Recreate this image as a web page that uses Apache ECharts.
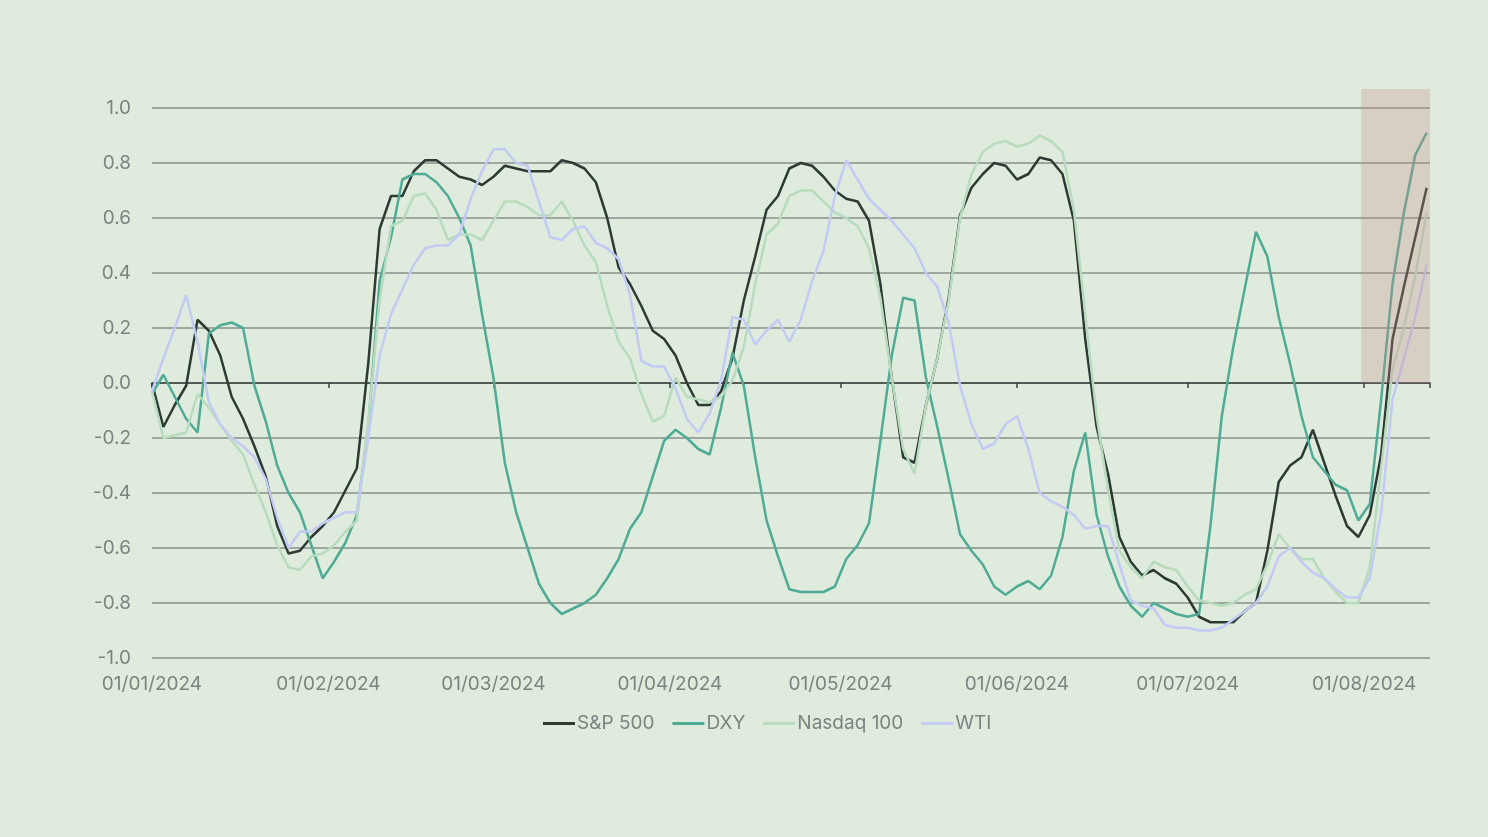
<!DOCTYPE html>
<html>
<head>
<meta charset="utf-8">
<title>Correlations 2024</title>
<script src="https://cdn.jsdelivr.net/npm/echarts@6/dist/echarts.min.js"></script>
<style>
  html, body { margin: 0; padding: 0; background: #dfecdd; }
  #main { width: 1488px; height: 837px; }
</style>
</head>
<body>
<div id="main"></div>
<script>
// every second day, 1 Jan to 12 Aug 2024
const dates = [
  '2024-01-01', '2024-01-03', '2024-01-05', '2024-01-07', '2024-01-09', '2024-01-11', '2024-01-13', '2024-01-15',
  '2024-01-17', '2024-01-19', '2024-01-21', '2024-01-23', '2024-01-25', '2024-01-27', '2024-01-29', '2024-01-31',
  '2024-02-02', '2024-02-04', '2024-02-06', '2024-02-08', '2024-02-10', '2024-02-12', '2024-02-14',
  '2024-02-16', '2024-02-18', '2024-02-20', '2024-02-22', '2024-02-24', '2024-02-26', '2024-02-28',
  '2024-03-01', '2024-03-03', '2024-03-05', '2024-03-07', '2024-03-09', '2024-03-11', '2024-03-13', '2024-03-15',
  '2024-03-17', '2024-03-19', '2024-03-21', '2024-03-23', '2024-03-25', '2024-03-27', '2024-03-29', '2024-03-31',
  '2024-04-02', '2024-04-04', '2024-04-06', '2024-04-08', '2024-04-10', '2024-04-12', '2024-04-14', '2024-04-16',
  '2024-04-18', '2024-04-20', '2024-04-22', '2024-04-24', '2024-04-26', '2024-04-28', '2024-04-30',
  '2024-05-02', '2024-05-04', '2024-05-06', '2024-05-08', '2024-05-10', '2024-05-12', '2024-05-14', '2024-05-16',
  '2024-05-18', '2024-05-20', '2024-05-22', '2024-05-24', '2024-05-26', '2024-05-28', '2024-05-30',
  '2024-06-01', '2024-06-03', '2024-06-05', '2024-06-07', '2024-06-09', '2024-06-11', '2024-06-13', '2024-06-15',
  '2024-06-17', '2024-06-19', '2024-06-21', '2024-06-23', '2024-06-25', '2024-06-27', '2024-06-29',
  '2024-07-01', '2024-07-03', '2024-07-05', '2024-07-07', '2024-07-09', '2024-07-11', '2024-07-13', '2024-07-15',
  '2024-07-17', '2024-07-19', '2024-07-21', '2024-07-23', '2024-07-25', '2024-07-27', '2024-07-29', '2024-07-31',
  '2024-08-02', '2024-08-04', '2024-08-06', '2024-08-08', '2024-08-10', '2024-08-12'
];

const spx = [
  0.00, -0.16, -0.08, -0.01, 0.23, 0.19, 0.10, -0.05, -0.13, -0.23, -0.34, -0.52, -0.62, -0.61, -0.56, -0.52,
  -0.47, -0.39, -0.31, 0.07, 0.56, 0.68, 0.68, 0.77, 0.81, 0.81, 0.78, 0.75, 0.74, 0.72,
  0.75, 0.79, 0.78, 0.77, 0.77, 0.77, 0.81, 0.80, 0.78, 0.73, 0.60, 0.42, 0.36, 0.28, 0.19, 0.16,
  0.10, 0.00, -0.08, -0.08, -0.03, 0.09, 0.30, 0.46, 0.63, 0.68, 0.78, 0.80, 0.79, 0.75, 0.70,
  0.67, 0.66, 0.59, 0.36, 0.02, -0.27, -0.29, -0.08, 0.09, 0.31, 0.61, 0.71, 0.76, 0.80, 0.79,
  0.74, 0.76, 0.82, 0.81, 0.76, 0.59, 0.16, -0.16, -0.33, -0.56, -0.65, -0.70, -0.68, -0.71, -0.73,
  -0.78, -0.85, -0.87, -0.87, -0.87, -0.83, -0.80, -0.61, -0.36, -0.30, -0.27, -0.17, -0.29, -0.41, -0.52, -0.56,
  -0.48, -0.26, 0.16, 0.35, 0.53, 0.71
];

const dxy = [
  -0.04, 0.03, -0.05, -0.13, -0.18, 0.18, 0.21, 0.22, 0.20, -0.01, -0.14, -0.30, -0.40, -0.47, -0.59, -0.71,
  -0.65, -0.58, -0.48, -0.16, 0.37, 0.53, 0.74, 0.76, 0.76, 0.73, 0.68, 0.60, 0.50, 0.25,
  0.02, -0.29, -0.47, -0.60, -0.73, -0.80, -0.84, -0.82, -0.80, -0.77, -0.71, -0.64, -0.53, -0.47, -0.34, -0.21,
  -0.17, -0.20, -0.24, -0.26, -0.09, 0.11, -0.01, -0.27, -0.50, -0.63, -0.75, -0.76, -0.76, -0.76, -0.74,
  -0.64, -0.59, -0.51, -0.21, 0.10, 0.31, 0.30, 0.02, -0.16, -0.35, -0.55, -0.61, -0.66, -0.74, -0.77,
  -0.74, -0.72, -0.75, -0.70, -0.56, -0.32, -0.18, -0.48, -0.63, -0.74, -0.81, -0.85, -0.80, -0.82, -0.84,
  -0.85, -0.84, -0.52, -0.12, 0.13, 0.34, 0.55, 0.46, 0.24, 0.07, -0.12, -0.27, -0.32, -0.37, -0.39, -0.50,
  -0.44, -0.06, 0.36, 0.62, 0.83, 0.91
];

const ndx = [
  -0.03, -0.20, -0.19, -0.18, -0.04, -0.09, -0.15, -0.21, -0.26, -0.37, -0.47, -0.59, -0.67, -0.68, -0.63, -0.62,
  -0.59, -0.54, -0.50, -0.14, 0.30, 0.57, 0.59, 0.68, 0.69, 0.63, 0.52, 0.54, 0.54, 0.52,
  0.59, 0.66, 0.66, 0.64, 0.61, 0.61, 0.66, 0.59, 0.50, 0.44, 0.28, 0.15, 0.09, -0.04, -0.14, -0.12,
  0.02, -0.05, -0.06, -0.07, -0.05, 0.01, 0.13, 0.36, 0.54, 0.58, 0.68, 0.70, 0.70, 0.66, 0.62,
  0.60, 0.57, 0.49, 0.31, 0.02, -0.24, -0.33, -0.08, 0.09, 0.30, 0.60, 0.76, 0.84, 0.87, 0.88,
  0.86, 0.87, 0.90, 0.88, 0.84, 0.63, 0.25, -0.12, -0.39, -0.61, -0.67, -0.71, -0.65, -0.67, -0.68,
  -0.74, -0.79, -0.80, -0.81, -0.80, -0.77, -0.75, -0.66, -0.55, -0.60, -0.64, -0.64, -0.71, -0.76, -0.80, -0.80,
  -0.67, -0.31, 0.05, 0.20, 0.39, 0.62
];

const wti = [
  -0.03, 0.09, 0.20, 0.32, 0.15, -0.07, -0.15, -0.20, -0.23, -0.27, -0.35, -0.49, -0.60, -0.54, -0.54, -0.51,
  -0.49, -0.47, -0.47, -0.20, 0.10, 0.25, 0.34, 0.43, 0.49, 0.50, 0.50, 0.54, 0.67, 0.77,
  0.85, 0.85, 0.80, 0.79, 0.66, 0.53, 0.52, 0.56, 0.57, 0.51, 0.49, 0.45, 0.32, 0.08, 0.06, 0.06,
  -0.02, -0.13, -0.18, -0.11, 0.01, 0.24, 0.23, 0.14, 0.19, 0.23, 0.15, 0.23, 0.37, 0.48, 0.68,
  0.81, 0.74, 0.67, 0.63, 0.59, 0.54, 0.49, 0.40, 0.35, 0.22, -0.01, -0.15, -0.24, -0.22, -0.15,
  -0.12, -0.24, -0.40, -0.43, -0.45, -0.48, -0.53, -0.52, -0.52, -0.66, -0.79, -0.81, -0.82, -0.88, -0.89,
  -0.89, -0.90, -0.90, -0.89, -0.86, -0.83, -0.80, -0.74, -0.63, -0.60, -0.65, -0.69, -0.71, -0.75, -0.78, -0.78,
  -0.71, -0.47, -0.06, 0.09, 0.24, 0.43
];

// shaded box over the last days, from the zero line to just above 1.0
const shade = [['2024-07-31 12:00', 1.069], ['2024-08-12 14:00', 1.069]];

const axisMin = '2024-01-01';
const axisMax = '2024-08-12 14:00';
const DAY = 86400000;

const labelColor = '#7b8480';
const font = 'Inter, "Noto Sans", sans-serif';

function pad(n) {
  return n < 10 ? '0' + n : '' + n;
}

function dateLabel(v) {
  const d = new Date(v);
  if (d.getDate() !== 1 || d.getHours() !== 0) return '';
  return pad(d.getDate()) + '/' + pad(d.getMonth() + 1) + '/' + d.getFullYear();
}

function pairs(values) {
  return dates.map((d, i) => [d, values[i]]);
}

function lineSeries(name, values, color, width) {
  return {
    name: name,
    type: 'line',
    xAxisIndex: 0,
    yAxisIndex: 0,
    data: pairs(values),
    symbol: 'none',
    showSymbol: false,
    lineStyle: { color: color, width: width },
    itemStyle: { color: color },
    z: 2,
    animation: false
  };
}

const chart = echarts.init(document.getElementById('main'), null, { renderer: 'canvas' });

chart.setOption({
  backgroundColor: '#dfecdd',
  animation: false,
  textStyle: { fontFamily: font },
  grid: [
    { left: 152, right: 58, top: 108, bottom: 179 },
    { left: 152, right: 58, top: 89, bottom: 179 }
  ],
  legend: {
    data: ['S&P 500', 'DXY', 'Nasdaq 100', 'WTI'],
    left: 538,
    top: 709,
    icon: 'rect',
    itemWidth: 32,
    itemHeight: 3,
    itemGap: 18,
    textStyle: { color: labelColor, fontSize: 19, fontFamily: font, padding: [0, 0, 0, -3] }
  },
  xAxis: [
    {
      // labels along the bottom
      type: 'time',
      gridIndex: 0,
      min: axisMin,
      max: axisMax,
      splitNumber: 8,
      minInterval: 28 * DAY,
      maxInterval: 31 * DAY,
      axisLine: { show: false, onZero: false },
      axisTick: { show: false },
      splitLine: { show: false },
      axisLabel: {
        color: labelColor,
        fontSize: 19,
        fontFamily: font,
        margin: 17,
        hideOverlap: false,
        formatter: dateLabel
      }
    },
    {
      // the zero line with its ticks
      type: 'time',
      gridIndex: 0,
      position: 'bottom',
      min: axisMin,
      max: axisMax,
      splitNumber: 8,
      minInterval: 28 * DAY,
      maxInterval: 31 * DAY,
      axisLine: { show: true, onZero: true, onZeroAxisIndex: 0, lineStyle: { color: '#39413d', width: 1.5 } },
      axisTick: { show: true, length: 5, lineStyle: { color: '#39413d', width: 1.5 } },
      axisLabel: { show: false },
      splitLine: { show: false }
    },
    {
      type: 'time',
      gridIndex: 1,
      min: axisMin,
      max: axisMax,
      show: false
    }
  ],
  yAxis: [
    {
      type: 'value',
      gridIndex: 0,
      min: -1,
      max: 1,
      interval: 0.2,
      axisLine: { show: false },
      axisTick: { show: false },
      splitLine: { show: true, lineStyle: { color: '#87918a', width: 1.5 } },
      axisLabel: {
        color: labelColor,
        fontSize: 19,
        fontFamily: font,
        margin: 21,
        formatter: v => v.toFixed(1)
      }
    },
    {
      type: 'value',
      gridIndex: 1,
      min: -1,
      max: 1.069,
      show: false
    }
  ],
  series: [
    lineSeries('S&P 500', spx, '#2d3a33', 2.5),
    lineSeries('DXY', dxy, '#4fab95', 2.5),
    lineSeries('Nasdaq 100', ndx, '#b8dbbe', 2.5),
    lineSeries('WTI', wti, '#c3caf3', 2.5),
    {
      type: 'line',
      xAxisIndex: 2,
      yAxisIndex: 1,
      data: shade,
      symbol: 'none',
      showSymbol: false,
      silent: true,
      lineStyle: { width: 0 },
      areaStyle: { color: 'rgba(203, 139, 138, 0.3)', origin: 0, opacity: 1 },
      z: 5,
      animation: false
    }
  ]
});
</script>
</body>
</html>
